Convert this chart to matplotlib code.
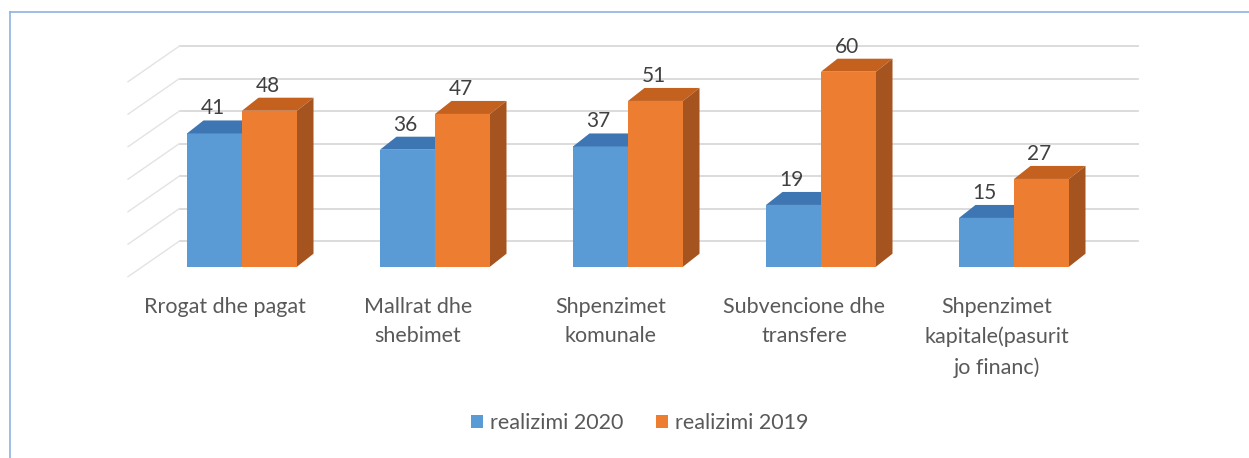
import matplotlib
matplotlib.use("Agg")
import matplotlib.pyplot as plt
from matplotlib.patches import Polygon, Patch
from matplotlib.lines import Line2D

categories = ["Rrogat dhe pagat", "Mallrat dhe\nshebimet", "Shpenzimet\nkomunale",
              "Subvencione dhe\ntransfere", "Shpenzimet\nkapitale(pasurit\njo financ)"]
series_names = ["realizimi 2020", "realizimi 2019"]
values_2020 = [41, 36, 37, 19, 15]
values_2019 = [48, 47, 51, 60, 27]
grid_values = [0, 10, 20, 30, 40, 50, 60]

FRONT = {"blue": "#5b9bd5", "orange": "#ed7d31"}
TOP = {"blue": "#3d76b3", "orange": "#c4611f"}
SIDE = {"blue": "#3a6ea5", "orange": "#a5541f"}
FONT = "Lato"
TXT = "#595959"

W, H = 1249, 458
fig = plt.figure(figsize=(W / 100, H / 100), dpi=100)
fig.patch.set_facecolor("white")

# axes: front plane of bars
px_per_cat = 193.0
px_per_unit = 3.25
x0_px, y0_px = 145.5, 266.7
ax = fig.add_axes([x0_px / W, (H - y0_px) / H, 5 * px_per_cat / W, 60 * px_per_unit / H])
ax.set_xlim(-0.5, 4.5)
ax.set_ylim(0, 60)
ax.axis("off")

def dx(px):
    return px / px_per_cat

def dy(px):
    return px / px_per_unit

# back wall gridlines
wall_dx, wall_dy = dx(34), dy(25.7)
front_dx, front_dy = dx(-17.5), dy(-10)
for g in grid_values:
    ax.add_line(Line2D([-0.5 + wall_dx, 4.466 + wall_dx], [g + wall_dy, g + wall_dy],
                       color="#d9d9d9", lw=1.3, clip_on=False, zorder=1))
    ax.add_line(Line2D([-0.5 + front_dx, -0.5 + wall_dx], [g + front_dy, g + wall_dy],
                       color="#e3e3e3", lw=1.0, clip_on=False, zorder=1))

bw = 0.285
ddx, ddy = dx(16.5), dy(13)

def bar3d(xl, v, key, z):
    xr = xl + bw
    ax.add_patch(Polygon([(xl, 0), (xr, 0), (xr, v), (xl, v)], closed=True,
                         facecolor=FRONT[key], edgecolor="none", zorder=z, clip_on=False))
    ax.add_patch(Polygon([(xl, v), (xr, v), (xr + ddx, v + ddy), (xl + ddx, v + ddy)], closed=True,
                         facecolor=TOP[key], edgecolor="none", zorder=z, clip_on=False))
    ax.add_patch(Polygon([(xr, 0), (xr, v), (xr + ddx, v + ddy), (xr + ddx, ddy)], closed=True,
                         facecolor=SIDE[key], edgecolor="none", zorder=z, clip_on=False))

for i, (b, o) in enumerate(zip(values_2020, values_2019)):
    bar3d(i - bw, b, "blue", 3)
    bar3d(i, o, "orange", 4)
    for xc, v in ((i - bw / 2, b), (i + bw / 2, o)):
        ax.annotate(str(v), xy=(xc, v), xytext=(-2, 25), textcoords="offset pixels",
                    ha="center", va="center", fontsize=15, family=FONT, color="#404040",
                    zorder=6, annotation_clip=False)

for i, c in enumerate(categories):
    ax.annotate(c, xy=(i, 0), xytext=(-17, -30), textcoords="offset pixels",
                ha="center", va="top", fontsize=15.5, family=FONT, color=TXT,
                linespacing=1.6, annotation_clip=False)

handles = [Patch(facecolor=FRONT["blue"], edgecolor="none"),
           Patch(facecolor=FRONT["orange"], edgecolor="none")]
fig.legend(handles, series_names, loc="center", bbox_to_anchor=(640 / W, 1 - 423 / H),
           ncol=2, frameon=False, prop={"family": FONT, "size": 15.5},
           handlelength=0.55, handleheight=0.6, handletextpad=0.35, columnspacing=1.5,
           labelcolor=TXT)

# chart border (top and left visible)
fig.add_artist(Line2D([10 / W, 1.0], [1 - 12 / H, 1 - 12 / H], color="#8db3e2", lw=1.2,
                      transform=fig.transFigure))
fig.add_artist(Line2D([10 / W, 10 / W], [0, 1 - 12 / H], color="#8db3e2", lw=1.2,
                      transform=fig.transFigure))

fig.savefig("out.png", dpi=100)
